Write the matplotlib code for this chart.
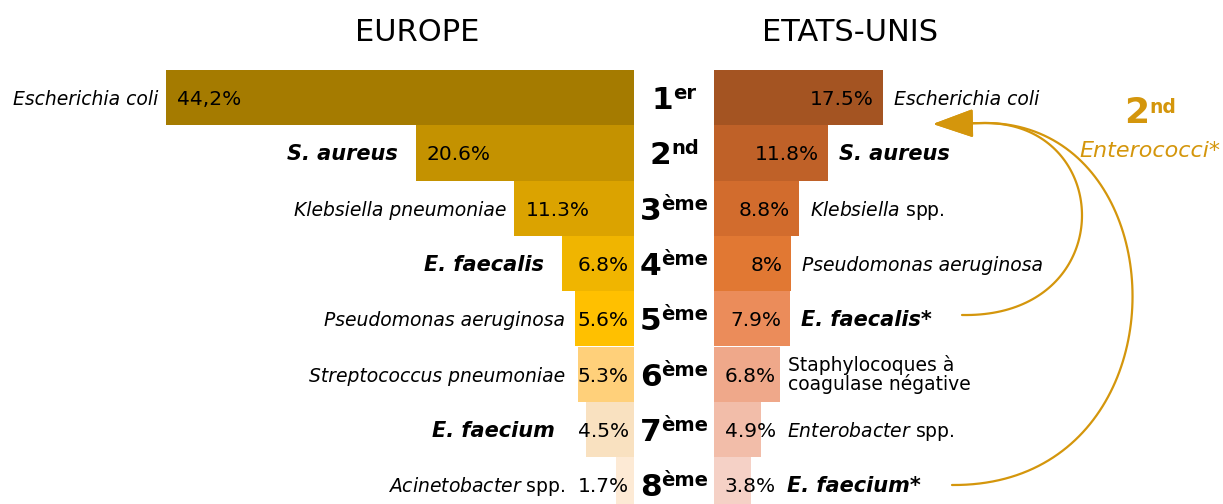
import matplotlib
matplotlib.use('Agg')
import matplotlib.pyplot as plt
import numpy as np
from matplotlib.patches import FancyArrowPatch, ArrowStyle
from matplotlib.path import Path
from matplotlib.transforms import Affine2D, ScaledTranslation

plt.rcParams['font.family'] = ['DejaVu Sans']
plt.rcParams['mathtext.fontset'] = 'dejavusans'

# ---------------- data ----------------
ranks = ['1', '2', '3', '4', '5', '6', '7', '8']
rank_suffix = ['er', 'nd', 'ème', 'ème', 'ème', 'ème', 'ème', 'ème']

eu_names = ['Escherichia coli', 'S. aureus', 'Klebsiella pneumoniae', 'E. faecalis',
            'Pseudomonas aeruginosa', 'Streptococcus pneumoniae', 'E. faecium',
            r'$\mathit{Acinetobacter}$ spp.']
eu_values = [44.2, 20.6, 11.3, 6.8, 5.6, 5.3, 4.5, 1.7]
eu_labels = ['44,2%', '20.6%', '11.3%', '6.8%', '5.6%', '5.3%', '4.5%', '1.7%']

us_names = ['Escherichia coli', 'S. aureus', r'$\mathit{Klebsiella}$ spp.',
            'Pseudomonas aeruginosa', 'E. faecalis*',
            'Staphylocoques à\ncoagulase négative', r'$\mathit{Enterobacter}$ spp.',
            'E. faecium*']
us_values = [17.5, 11.8, 8.8, 8.0, 7.9, 6.8, 4.9, 3.8]
us_labels = ['17.5%', '11.8%', '8.8%', '8%', '7.9%', '6.8%', '4.9%', '3.8%']

titles = ['EUROPE', 'ETATS-UNIS']
note_rank = ['2', 'nd']
note_text = 'Enterococci*'

# ---------------- styles ----------------
eu_colors = ['#A57B00', '#C49200', '#DBA300', '#F0B500', '#FFC000', '#FFD07A', '#F9E1C0', '#FDEAD5']
us_colors = ['#A45422', '#BF6128', '#D26C2D', '#E17833', '#EB8C5A', '#EFA88A', '#F2BDA9', '#F5D1C6']
eu_style = ['i', 'bi', 'i', 'bi', 'i', 'i', 'bi', 'n']
us_style = ['i', 'bi', 'n', 'i', 'bi', 'n', 'n', 'bi']
gold = '#D4960C'

W, H = 1223, 504
DPI = 100
fig = plt.figure(figsize=(W / DPI, H / DPI), dpi=DPI)

top_px = 70.0
row_px = 55.3
eu_right, us_left = 634.0, 714.0
eu_scale, us_scale = 10.59, 9.66   # px per percent

def rect(x0, x1):
    return [x0 / W, 0, (x1 - x0) / W, (H - top_px) / H]

nvis = (H - top_px) / row_px
ylims = (-0.5 + nvis, -0.5)

ax_eu = fig.add_axes(rect(0, eu_right))
ax_mid = fig.add_axes(rect(eu_right, us_left))
ax_us = fig.add_axes(rect(us_left, W))
ax_eu.set_xlim(eu_right / eu_scale, 0)
ax_us.set_xlim(0, (W - us_left) / us_scale)
ax_mid.set_xlim(0, 1)
for a in (ax_eu, ax_mid, ax_us):
    a.set_ylim(*ylims)
    a.axis('off')

y = np.arange(len(ranks))
ax_eu.barh(y, eu_values, height=1.0, color=eu_colors, linewidth=0)
ax_us.barh(y, us_values, height=1.0, color=us_colors, linewidth=0)

tb = 7.5 / row_px
NAME_FS = 13.5
BOLD_FS = 15
VAL_FS = 14.5

def style_kw(s):
    if s == 'i':
        return dict(style='italic', weight='normal', fontsize=NAME_FS)
    if s == 'bi':
        return dict(style='italic', weight='bold', fontsize=BOLD_FS)
    return dict(style='normal', weight='normal', fontsize=NAME_FS)

# Europe
for i, (v, lab, nm, st) in enumerate(zip(eu_values, eu_labels, eu_names, eu_style)):
    if v >= 10:
        ax_eu.text(v - 11 / eu_scale, i + tb, lab, ha='left', va='baseline', fontsize=VAL_FS)
        anchor = v
    else:
        ax_eu.text(5 / eu_scale, i + tb, lab, ha='right', va='baseline', fontsize=VAL_FS)
        anchor = max(v, 61 / eu_scale)
    gap = (18 if st == 'bi' else 8) / eu_scale
    ax_eu.text(anchor + gap, i + tb, nm, ha='right', va='baseline', **style_kw(st))

# United States
for i, (v, lab, nm, st) in enumerate(zip(us_values, us_labels, us_names, us_style)):
    xr = max(v - 9 / us_scale, 62 / us_scale)
    ax_us.text(xr, i + tb, lab, ha='right', va='baseline', fontsize=VAL_FS)
    anchor = max(v, 62 / us_scale) + 11 / us_scale
    if '\n' in nm:
        ax_us.text(anchor - 3 / us_scale, i, nm, ha='left', va='center',
                   linespacing=0.95, **style_kw(st))
    else:
        ax_us.text(anchor, i + tb, nm, ha='left', va='baseline', **style_kw(st))

# Rank labels (measured & centred)
rb = 11.5 / row_px
pairs = []
for i, (r, s) in enumerate(zip(ranks, rank_suffix)):
    t1 = ax_mid.text(0.5, i + rb, r, ha='left', va='baseline', fontsize=22.5, weight='bold')
    t2 = ax_mid.text(0.5, i + rb, s, ha='left', va='baseline', fontsize=14, weight='bold')
    pairs.append((t1, t2))

# Titles
fig.text(417.5 / W, 1 - 41 / H, titles[0], ha='center', va='baseline', fontsize=22)
fig.text(850 / W, 1 - 41 / H, titles[1], ha='center', va='baseline', fontsize=22)

# Side note
pix = Affine2D().scale(1 / W, -1 / H).translate(0, 1) + fig.transFigure
n1 = fig.text(0, 0, note_rank[0], transform=pix, ha='left', va='baseline', fontsize=26,
              weight='bold', color=gold)
n2 = fig.text(0, 0, note_rank[1], transform=pix, ha='left', va='baseline', fontsize=13.5,
              weight='bold', color=gold)
fig.text(1150, 157, note_text, transform=pix, ha='center', va='baseline', fontsize=16,
         style='italic', color=gold)

fig.canvas.draw()
rend = fig.canvas.get_renderer()
for t1, t2 in pairs:
    w1 = t1.get_window_extent(rend).width
    w2 = t2.get_window_extent(rend).width
    tot = w1 + w2
    t1.set_transform(ax_mid.transData + ScaledTranslation(-tot / 2 / DPI, 0, fig.dpi_scale_trans))
    t2.set_transform(ax_mid.transData + ScaledTranslation((-tot / 2 + w1) / DPI, 10 / DPI,
                                                          fig.dpi_scale_trans))
w1 = n1.get_window_extent(rend).width
w2 = n2.get_window_extent(rend).width
tot = w1 + w2
n1.set_position((1150 - tot / 2, 123))
n2.set_position((1150 - tot / 2 + w1, 113))

# Curved arrows (cubic Bezier, pixel coordinates)
def bez(p0, p1, p2, p3, tip):
    t = np.linspace(0, 1, 100)[:, None]
    p0, p1, p2, p3 = (np.array(p, float) for p in (p0, p1, p2, p3))
    pts = ((1 - t) ** 3) * p0 + 3 * t * (1 - t) ** 2 * p1 + 3 * t ** 2 * (1 - t) * p2 + t ** 3 * p3
    return Path(np.vstack([pts, tip]))

tip = (933, 124)
paths = [bez((962, 315), (1120, 318), (1116, 123), (985, 123), tip),
         bez((952, 485), (1190, 487), (1184, 123), (985, 123), tip)]
for path in paths:
    fa = FancyArrowPatch(path=path, transform=pix,
                         arrowstyle=ArrowStyle('-|>', head_length=0.85, head_width=0.3),
                         mutation_scale=30, color=gold, lw=1.6)
    fig.add_artist(fa)

fig.savefig('out.png', dpi=DPI)
